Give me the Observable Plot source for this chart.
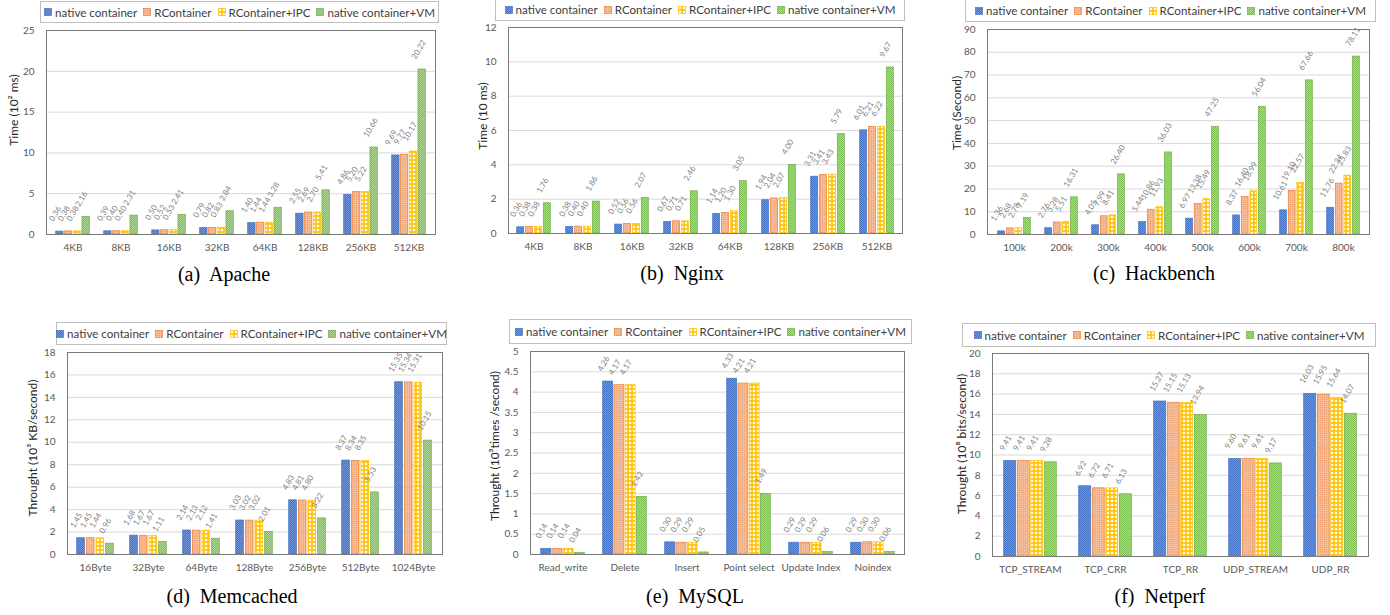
<!DOCTYPE html>
<html><head><meta charset="utf-8">
<script src="https://cdn.jsdelivr.net/npm/d3@7"></script>
<script src="https://cdn.jsdelivr.net/npm/@observablehq/plot@0.6"></script>
<style>
body{margin:0;background:#fff;}
#root{position:relative;width:1390px;height:615px;overflow:hidden;background:#fff;font-family:Lato,sans-serif;}
.legend{position:absolute;box-sizing:border-box;border:1px solid #bfbfbf;background:#fff;display:flex;align-items:center;justify-content:center;font-size:11.6px;color:#404040;gap:6px;white-space:nowrap;z-index:2;}
.legend .item{display:flex;align-items:center;}
.legend svg{margin-right:3px;}
.ytitle{position:absolute;font-size:12px;color:#262626;white-space:nowrap;transform:translate(-50%,-50%) rotate(-90deg);}
.caption{position:absolute;font-family:"Liberation Serif","Times New Roman",serif;font-size:20px;color:#000;white-space:pre;transform:translate(-50%,-50%);}
.plot{position:absolute;overflow:visible;}
</style></head><body>
<svg width="0" height="0" style="position:absolute">
<defs>
<pattern id="pBlue" width="2" height="2" patternUnits="userSpaceOnUse">
<rect width="2" height="2" fill="#4472C4"/><rect width="1" height="1" fill="#7396DA"/><rect x="1" y="1" width="1" height="1" fill="#7396DA"/>
</pattern>
<pattern id="pOrange" width="3" height="3" patternUnits="userSpaceOnUse" patternTransform="rotate(45)">
<rect width="3" height="3" fill="#FAD4BA"/><rect width="1.5" height="1.5" fill="#EF9660"/><rect x="1.5" y="1.5" width="1.5" height="1.5" fill="#EF9660"/>
</pattern>
<pattern id="pYellow" width="4" height="4" patternUnits="userSpaceOnUse">
<rect width="4" height="4" fill="#FFC000"/><rect x="0.8" y="0.8" width="2.4" height="2.4" fill="#FFFBEA"/>
</pattern>
<pattern id="pGreen" width="2" height="2" patternUnits="userSpaceOnUse">
<rect width="2" height="2" fill="#7DBE52"/><rect width="1" height="1" fill="#B0D896"/><rect x="1" y="1" width="1" height="1" fill="#B0D896"/>
</pattern>
</defs>
</svg>
<div id="root"></div>
<script>
// ---------- data ----------
const seriesNames = ["native container", "RContainer", "RContainer+IPC", "native container+VM"];

const apacheCats = ["4KB", "8KB", "16KB", "32KB", "64KB", "128KB", "256KB", "512KB"];
const apacheNative = [0.36, 0.39, 0.50, 0.79, 1.40, 2.55, 4.86, 9.69];
const apacheRC = [0.38, 0.40, 0.52, 0.82, 1.44, 2.69, 5.20, 9.77];
const apacheIPC = [0.38, 0.40, 0.53, 0.83, 1.44, 2.70, 5.22, 10.17];
const apacheVM = [2.16, 2.31, 2.41, 2.84, 3.28, 5.41, 10.66, 20.22];
const apacheTicks = [0, 5, 10, 15, 20, 25];

const nginxCats = ["4KB", "8KB", "16KB", "32KB", "64KB", "128KB", "256KB", "512KB"];
const nginxNative = [0.36, 0.38, 0.52, 0.67, 1.14, 1.94, 3.31, 6.01];
const nginxRC = [0.38, 0.40, 0.56, 0.71, 1.20, 2.04, 3.41, 6.21];
const nginxIPC = [0.38, 0.40, 0.56, 0.71, 1.30, 2.07, 3.43, 6.22];
const nginxVM = [1.76, 1.86, 2.07, 2.46, 3.05, 4.00, 5.79, 9.67];
const nginxTicks = [0, 2, 4, 6, 8, 10, 12];

const hackCats = ["100k", "200k", "300k", "400k", "500k", "600k", "700k", "800k"];
const hackNative = [1.36, 2.76, 4.05, 5.44, 6.97, 8.37, 10.61, 11.76];
const hackRC = [2.68, 5.28, 7.99, 10.86, 13.38, 16.40, 19.10, 22.34];
const hackIPC = [2.78, 5.51, 8.41, 11.93, 15.49, 18.99, 22.57, 25.83];
const hackVM = [7.19, 16.31, 26.40, 36.03, 47.25, 56.04, 67.66, 78.11];
const hackTicks = [0, 10, 20, 30, 40, 50, 60, 70, 80, 90];

const memCats = ["16Byte", "32Byte", "64Byte", "128Byte", "256Byte", "512Byte", "1024Byte"];
const memNative = [1.45, 1.68, 2.14, 3.03, 4.83, 8.37, 15.35];
const memRC = [1.45, 1.67, 2.13, 3.02, 4.81, 8.34, 15.34];
const memIPC = [1.44, 1.67, 2.12, 3.02, 4.80, 8.35, 15.31];
const memVM = [0.96, 1.11, 1.41, 2.01, 3.22, 5.53, 10.15];
const memTicks = [0, 2, 4, 6, 8, 10, 12, 14, 16, 18];

const mysqlCats = ["Read_write", "Delete", "Insert", "Point select", "Update Index", "Noindex"];
const mysqlNative = [0.14, 4.26, 0.30, 4.33, 0.29, 0.29];
const mysqlRC = [0.14, 4.17, 0.29, 4.21, 0.29, 0.30];
const mysqlIPC = [0.14, 4.17, 0.29, 4.21, 0.29, 0.30];
const mysqlVM = [0.04, 1.42, 0.05, 1.49, 0.06, 0.06];
const mysqlTicks = [0, 0.5, 1, 1.5, 2, 2.5, 3, 3.5, 4, 4.5, 5];

const netCats = ["TCP_STREAM", "TCP_CRR", "TCP_RR", "UDP_STREAM", "UDP_RR"];
const netNative = [9.41, 6.92, 15.27, 9.60, 16.03];
const netRC = [9.41, 6.72, 15.15, 9.61, 15.95];
const netIPC = [9.41, 6.71, 15.13, 9.61, 15.64];
const netVM = [9.28, 6.13, 13.94, 9.17, 14.07];
const netTicks = [0, 2, 4, 6, 8, 10, 12, 14, 16, 18, 20];

// ---------- styles ----------
const fills = ["url(#pBlue)", "url(#pOrange)", "url(#pYellow)", "url(#pGreen)"];
const strokes = ["#4472C4", "#ED7D31", "#FFC000", "#70AD47"];

const panels = [
  {cats: apacheCats, vals: [apacheNative, apacheRC, apacheIPC, apacheVM], ticks: apacheTicks, ytitle: "Time (10² ms)", caption: "(a)  Apache",
   svg: {left: 0, top: 20, width: 445, height: 239, ml: 46}, legend: {left: 40, top: 1, width: 399, height: 22}, yt: {x: 13, y: 110}, cap: {x: 224, y: 274}},
  {cats: nginxCats, vals: [nginxNative, nginxRC, nginxIPC, nginxVM], ticks: nginxTicks, ytitle: "Time (10 ms)", caption: "(b)  Nginx",
   svg: {left: 460, top: 17, width: 452, height: 241, ml: 48}, legend: {left: 495, top: -2, width: 410, height: 23}, yt: {x: 482, y: 116}, cap: {x: 682, y: 273}},
  {cats: hackCats, vals: [hackNative, hackRC, hackIPC, hackVM], ticks: hackTicks, ytitle: "Time (Second)", caption: "(c)  Hackbench",
   svg: {left: 930, top: 19, width: 449, height: 240, ml: 57}, legend: {left: 965, top: -1, width: 411, height: 23}, yt: {x: 956, y: 113}, cap: {x: 1154, y: 273}},
  {cats: memCats, vals: [memNative, memRC, memIPC, memVM], ticks: memTicks, ytitle: "Throught (10³ KB/second)", caption: "(d)  Memcached",
   svg: {left: 0, top: 342, width: 452, height: 237, ml: 67}, legend: {left: 56, top: 322, width: 391, height: 23}, yt: {x: 32, y: 448}, cap: {x: 232, y: 596}},
  {cats: mysqlCats, vals: [mysqlNative, mysqlRC, mysqlIPC, mysqlVM], ticks: mysqlTicks, ytitle: "Throught (10³times /second)", caption: "(e)  MySQL",
   svg: {left: 460, top: 341, width: 454, height: 238, ml: 70}, legend: {left: 509, top: 319, width: 403, height: 25}, yt: {x: 494, y: 446}, cap: {x: 695, y: 596}},
  {cats: netCats, vals: [netNative, netRC, netIPC, netVM], ticks: netTicks, ytitle: "Throught (10⁸ bits/second)", caption: "(f)  Netperf",
   svg: {left: 930, top: 343, width: 448, height: 238, ml: 62}, legend: {left: 962, top: 323, width: 414, height: 24}, yt: {x: 961, y: 444}, cap: {x: 1160, y: 596}}
];

const root = document.getElementById("root");
const padInner = 0.28, padOuter = 0.14, mr = 10, mt = 10, mb = 25;

for (const p of panels) {
  const n = p.cats.length;
  const plotW = p.svg.width - p.svg.ml - mr;
  const step = plotW / (n - padInner + 2 * padOuter);
  const bw = step * (1 - padInner);
  const sub = bw / 4;
  const marks = [Plot.gridY(p.ticks, {stroke: "#d9d9d9", strokeOpacity: 1})];
  p.vals.forEach((vals, i) => {
    const rows = p.cats.map((c, j) => ({cat: c, v: vals[j]}));
    marks.push(Plot.barY(rows, {
      x: "cat", y: "v", fill: fills[i], stroke: strokes[i], strokeWidth: 0.7,
      insetLeft: i * sub + 0.7, insetRight: (3 - i) * sub + 0.7
    }));
  });
  p.vals.forEach((vals, i) => {
    const rows = p.cats.map((c, j) => ({cat: c, v: vals[j]}));
    marks.push(Plot.text(rows, {
      x: "cat", y: "v", text: d => d.v.toFixed(2), rotate: -60, textAnchor: "start",
      dx: (i - 1.5) * sub - 8.5, dy: -11, fontSize: 8, fill: "#7f7f7f"
    }));
  });
  marks.push(Plot.frame({stroke: "#7a7a7a"}));
  marks.push(Plot.axisY(p.ticks, {tickSize: 0, tickPadding: 12, tickFormat: d => String(d), label: null}));
  marks.push(Plot.axisX({tickSize: 0, tickPadding: 9, label: null}));

  const chart = Plot.plot({
    width: p.svg.width, height: p.svg.height,
    marginLeft: p.svg.ml, marginRight: mr, marginTop: mt, marginBottom: mb,
    x: {domain: p.cats, paddingInner: padInner, paddingOuter: padOuter, label: null},
    y: {domain: [p.ticks[0], p.ticks[p.ticks.length - 1]], label: null},
    style: {fontFamily: "Lato, sans-serif", fontSize: "10px", color: "#595959", background: "transparent", overflow: "visible"},
    marks
  });
  chart.classList.add("plot");
  chart.style.left = p.svg.left + "px";
  chart.style.top = p.svg.top + "px";
  root.appendChild(chart);

  // legend
  const lg = document.createElement("div");
  lg.className = "legend";
  Object.assign(lg.style, {left: p.legend.left + "px", top: p.legend.top + "px", width: p.legend.width + "px", height: p.legend.height + "px"});
  seriesNames.forEach((s, i) => {
    const it = document.createElement("div");
    it.className = "item";
    it.innerHTML = `<svg width="8" height="8"><rect x="0.5" y="0.5" width="7" height="7" fill="${fills[i]}" stroke="${strokes[i]}" stroke-width="0.7"/></svg><span>${s}</span>`;
    lg.appendChild(it);
  });
  root.appendChild(lg);

  const yt = document.createElement("div");
  yt.className = "ytitle";
  yt.textContent = p.ytitle;
  yt.style.left = p.yt.x + "px";
  yt.style.top = p.yt.y + "px";
  root.appendChild(yt);

  const cap = document.createElement("div");
  cap.className = "caption";
  cap.textContent = p.caption;
  cap.style.left = p.cap.x + "px";
  cap.style.top = p.cap.y + "px";
  root.appendChild(cap);
}
</script>
</body></html>
